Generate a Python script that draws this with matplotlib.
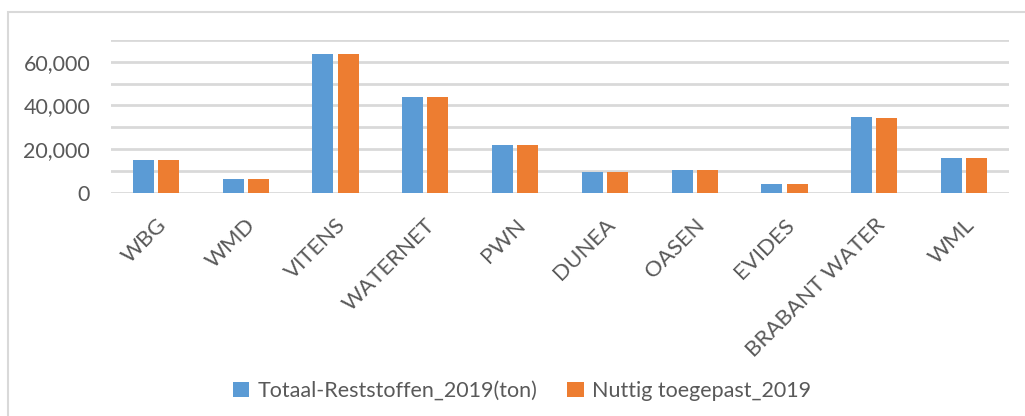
import numpy as np
import matplotlib.pyplot as plt
from matplotlib.patches import Rectangle
from matplotlib.ticker import FuncFormatter, MultipleLocator

plt.rcParams["font.family"] = ["Lato", "DejaVu Sans"]

# Data
companies = ['WBG', 'WMD', 'VITENS', 'WATERNET', 'PWN', 'DUNEA', 'OASEN',
             'EVIDES', 'BRABANT WATER', 'WML']
totaal = [15000, 6300, 63600, 43900, 21900, 9500, 10400, 4000, 34700, 15900]
nuttig = [15000, 6300, 63600, 43900, 21900, 9500, 10400, 4000, 34300, 15900]

blue = '#5B9BD5'
orange = '#ED7D31'
text_col = '#595959'
grid_col = '#D9D9D9'

fig = plt.figure(figsize=(10.25, 4.16), dpi=100)
ax = fig.add_axes([111 / 1025, 1 - 192.7 / 416, 898 / 1025, 152.7 / 416])

# light chart frame (only top/left visible in the original)
fig.patches.append(Rectangle((8 / 1025, -0.1), 1.1, (416 - 12) / 416 + 0.1,
                             transform=fig.transFigure, fill=False,
                             edgecolor=grid_col, linewidth=1.5))

x = np.arange(len(companies))
w = 0.234
gap = 0.045
ax.bar(x - (w + gap) / 2, totaal, width=w, color=blue, label='Totaal-Reststoffen_2019(ton)', zorder=3)
ax.bar(x + (w + gap) / 2, nuttig, width=w, color=orange, label='Nuttig toegepast_2019', zorder=3)

ax.set_xlim(-0.5, len(companies) - 0.5)
ax.set_ylim(0, 70000)
ax.yaxis.set_major_locator(MultipleLocator(10000))
ax.yaxis.set_major_formatter(FuncFormatter(lambda v, p: f'{int(v):,}' if v % 20000 == 0 else ''))
ax.grid(axis='y', color=grid_col, linewidth=2, zorder=0)
for s in ax.spines.values():
    s.set_visible(False)

ax.tick_params(axis='y', length=0, pad=15, labelsize=15.5, labelcolor=text_col)
ax.tick_params(axis='x', length=0, pad=16, labelsize=16, labelcolor=text_col)
ax.set_xticks(x)
ax.set_xticklabels(companies, rotation=45, ha='right', rotation_mode='anchor')
for lbl in ax.get_xticklabels():
    lbl.set_x(lbl.get_position()[0])

fig.legend(loc='center', bbox_to_anchor=(522 / 1025, 1 - 391 / 416), ncol=2,
           frameon=False, fontsize=15.5, labelcolor=text_col,
           handlelength=0.75, handleheight=0.75, handletextpad=0.4, columnspacing=1.4)

plt.savefig('out.png', dpi=100)
